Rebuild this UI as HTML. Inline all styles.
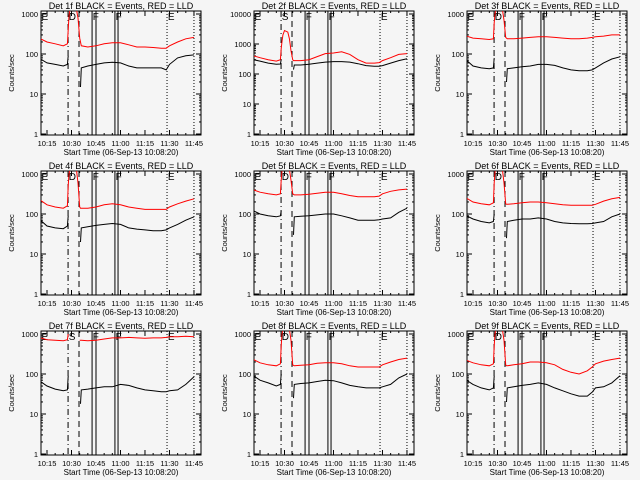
<!DOCTYPE html>
<html><head><meta charset="utf-8"><style>
html,body{margin:0;padding:0;background:#f5f5f5;}
svg{display:block;font-family:"Liberation Sans",sans-serif;}
</style></head><body>
<svg id="c" width="640" height="480" viewBox="0 0 640 480"></svg>
<script>
const times=[11,15,20,25,27.5,28,28.5,29,30,32,33,34,35,35.5,36,40,45,50,55,60,65,70,75,80,85,88,90,95,100,105];
const n=null;
const black1=[75,60,55,50,55,90,n,n,n,n,n,n,n,15,45,50,55,60,62,60,50,45,45,45,45,40,55,80,90,95];
const red1=[240,200,180,160,180,400,900,1300,1400,1400,1300,800,250,200,160,150,160,180,190,190,170,150,150,145,140,140,160,200,240,260];
const black2=[300,270,230,210,215,300,n,n,n,n,n,n,n,140,200,200,210,230,250,260,260,250,220,190,180,180,190,230,280,320];
const red2=[400,350,300,270,300,700,1200,2000,2800,2500,1500,600,300,280,280,280,300,380,480,500,550,450,300,230,230,240,280,350,450,480];
const black3=[70,50,45,43,45,80,n,n,n,n,n,n,n,20,43,45,48,50,55,55,52,45,40,38,38,40,45,60,75,85];
const red3=[280,250,240,230,240,600,1000,1300,1400,1400,1300,700,260,250,240,240,250,260,270,270,260,250,240,240,250,260,270,280,300,300];
const black4=[70,50,45,43,50,90,n,n,n,n,n,n,n,20,45,48,52,55,58,55,45,42,40,38,38,40,45,55,70,85];
const red4=[220,170,150,140,160,500,1000,1300,1400,1400,1300,600,150,140,140,140,150,170,180,170,150,140,130,130,130,130,150,180,210,240];
const black5=[120,100,90,85,90,120,n,n,n,n,n,n,n,30,85,88,90,95,100,100,90,80,70,70,70,72,75,80,110,140];
const red5=[400,350,320,300,320,700,1200,1400,1400,1400,1300,700,320,310,300,300,310,330,350,350,320,290,270,270,270,280,320,370,400,420];
const black6=[90,75,65,60,65,100,n,n,n,n,n,n,n,25,65,70,75,75,80,75,65,60,58,57,57,58,60,65,85,100];
const red6=[250,200,180,170,190,600,1100,1400,1400,1400,1300,600,180,175,175,180,190,200,200,190,180,170,165,165,165,165,175,210,240,260];
const black7=[65,50,42,38,40,90,n,n,n,n,n,n,n,18,40,42,45,48,48,55,52,45,40,38,36,36,38,40,55,85];
const red7=[800,720,700,680,720,1000,n,n,n,n,n,n,700,700,700,680,700,750,800,800,820,800,780,800,800,820,850,850,880,850];
const black8=[90,70,60,50,55,100,n,n,n,n,n,n,n,25,55,58,60,65,70,68,60,52,48,45,45,45,48,55,80,100];
const red8=[230,190,170,160,180,500,1000,1300,1400,1400,1300,700,170,165,160,165,170,185,190,190,180,160,150,150,150,150,170,200,230,250];
const black9=[70,55,45,40,45,90,n,n,n,n,n,n,n,20,45,48,52,55,60,55,45,38,32,28,28,35,45,48,60,90];
const red9=[220,190,170,160,180,500,1000,1300,1400,1400,1300,700,170,160,160,170,180,200,200,190,170,130,110,100,120,150,180,210,230,250];
const xTickMinutes=[15,30,45,60,75,90,105];
const xTickLabels=["10:15","10:30","10:45","11:00","11:15","11:30","11:45"];
const eventMinutes=[27.9,34.6,42.6,45,56.6,58.5,88.5,105];
const eventStyles=["dashdot","dash","solid","solid","solid","solid","dot","dot"];
const eventLetterMinutes=[11.6,28.3,43,57,89];
const blacks=[black1,black2,black3,black4,black5,black6,black7,black8,black9];
const reds=[red1,red2,red3,red4,red5,red6,red7,red8,red9];
const peakLetters=["D","S","D","D","D","D","S","D","D"];

const NS="http://www.w3.org/2000/svg";
const svg=document.getElementById('c');
function mk(tag,attrs,parent){const e=document.createElementNS(NS,tag);for(const k in attrs)e.setAttribute(k,attrs[k]);(parent||svg).appendChild(e);return e;}

for(let p=0;p<9;p++){
  const ox=(p%3)*213, oy=Math.floor(p/3)*160;
  const g=mk('g',{transform:`translate(${ox},${oy})`});
  
  
  const L=41,R=201,T=11,B=135;
  const D=(p===1)?30:40;
  const maxDec=(p===1)?4:3;
  const xs=m=>47+(m-15)*1.633;
  const ys=v=>134-Math.log10(v)*D;
  const cid='clip'+p;
  const cp=mk('clipPath',{id:cid},g);mk('rect',{x:L,y:T,width:R-L,height:B-T},cp);
  const t=mk('text',{x:121,y:9,'text-anchor':'middle','font-size':'9',fill:'#000'},g);
  t.textContent='Det '+(p+1)+'f BLACK = Events, RED = LLD';
  
  
  const fr=mk('rect',{x:L,y:T,width:R-L,height:B-T,fill:'none',stroke:'#000','stroke-width':1},g);
  
  
  for(let d=0;d<=maxDec;d++){
    const y=ys(Math.pow(10,d));
    mk('line',{x1:L,x2:L+5,y1:y,y2:y,stroke:'#000'},g);
    mk('line',{x1:R-5,x2:R,y1:y,y2:y,stroke:'#000'},g);
    const lb=mk('text',{x:38,y:y+3,'text-anchor':'end','font-size':'7.5',fill:'#000'},g);
    lb.textContent=String(Math.pow(10,d));
    
    
    for(let k=2;k<10;k++){
      const yy=ys(k*Math.pow(10,d));
      if(yy<T)continue;
      mk('line',{x1:L,x2:L+2,y1:yy,y2:yy,stroke:'#000'},g);
      mk('line',{x1:R-2,x2:R,y1:yy,y2:yy,stroke:'#000'},g);
    }
  }
  const yt=mk('text',{x:14,y:73,'text-anchor':'middle','font-size':'7.5',fill:'#000',transform:'rotate(-90 14 73)'},g);
  yt.textContent='Counts/sec';
  
  
  for(let m=15;m<=105;m+=5){
    const x=xs(m);const major=(m%15===0);
    mk('line',{x1:x,x2:x,y1:B,y2:B-(major?5:2),stroke:'#000'},g);
    mk('line',{x1:x,x2:x,y1:T,y2:T+(major?5:2),stroke:'#000'},g);
  }
  xTickMinutes.forEach((m,i)=>{
    const lb=mk('text',{x:xs(m),y:146,'text-anchor':'middle','font-size':'7.5',fill:'#000'},g);
    lb.textContent=xTickLabels[i];
    
    
  });
  const xt=mk('text',{x:121,y:155,'text-anchor':'middle','font-size':'8',fill:'#000'},g);
  xt.textContent='Start Time (06-Sep-13 10:08:20)';
  
  
  const dashes={dashdot:'6,3,1,3',dash:'6,4',solid:'',dot:'1,2'};
  eventMinutes.forEach((m,i)=>{
    const x=xs(m);
    const ln=mk('line',{x1:x,x2:x,y1:T,y2:B,stroke:'#000','stroke-width':1},g);
    if(dashes[eventStyles[i]])ln.setAttribute('stroke-dasharray',dashes[eventStyles[i]]);
    
    
  });
  const letters=['E',peakLetters[p],'F','F','E'];
  eventLetterMinutes.forEach((m,i)=>{
    const tx=mk('text',{x:xs(m),y:20,'font-size':'10',fill:'#000'},g);
    tx.textContent=letters[i];
    
    
  });
  function path(vals){
    let d='',pen=false;
    vals.forEach((v,i)=>{
      if(v===null){pen=false;return;}
      d+=(pen?'L':'M')+xs(times[i]).toFixed(1)+','+ys(v).toFixed(1);pen=true;
    });
    return d;
  }
  const rp=mk('path',{d:path(reds[p]),fill:'none',stroke:'#ff0000','stroke-width':1,'clip-path':`url(#${cid})`},g);
  
  
  const bp=mk('path',{d:path(blacks[p]),fill:'none',stroke:'#000','stroke-width':1,'clip-path':`url(#${cid})`},g);
  
  
}
</script>
</body></html>
